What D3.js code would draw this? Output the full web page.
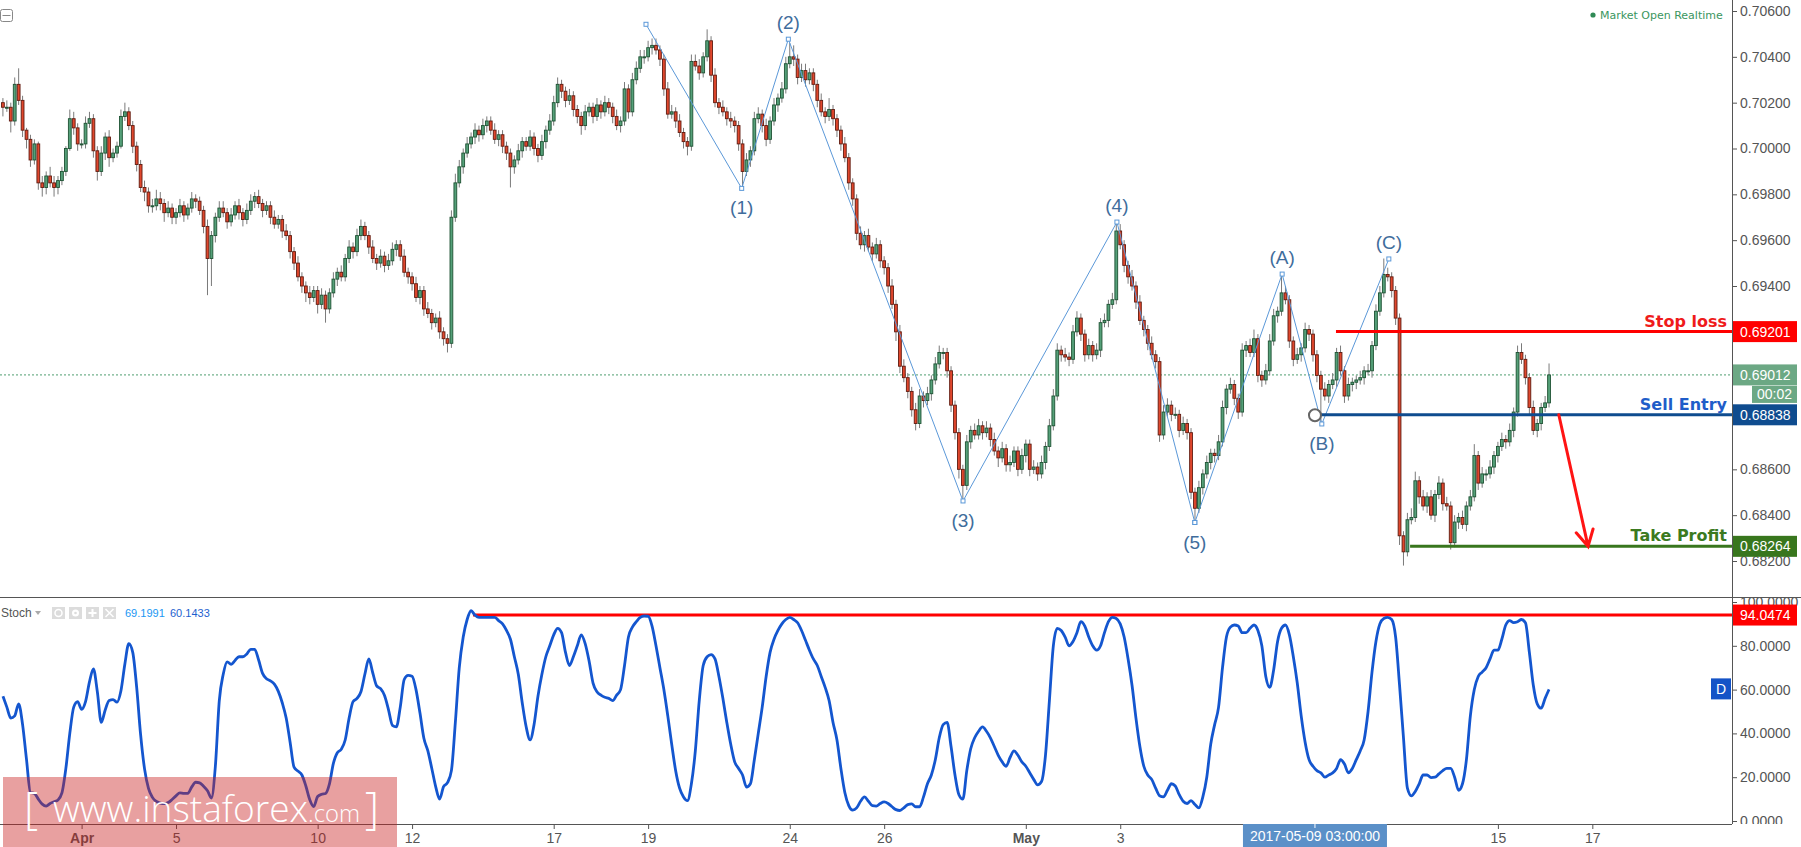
<!DOCTYPE html>
<html><head><meta charset="utf-8">
<script src="https://cdn.jsdelivr.net/npm/d3@7"></script>
<style>body{margin:0;background:#fff}svg{display:block}</style>
</head><body>
<svg id="c" width="1801" height="847"></svg>
<script>
// ---------- DATA ----------
// each bar: [close, upper wick (pips), lower wick (pips), stoch %D]
const firstOpen = 0.7020;
const mar30 = [[0.7018,2,4,57],[0.7018,3,2,52],[0.7012,2,5,47],[0.7028,3,2,48],[0.7021,7,2,53.5],[0.7008,2,3,44],[0.7004,1,4,28],[0.6995,2,3,13]];
const mar31 = [[0.7002,2,2,12.6],[0.6985,1,3,10],[0.6983,3,4,7.7],[0.6988,2,3,6.8],[0.6985,4,2,8],[0.6983,3,4,8.8],[0.6986,2,3,9.6],[0.6990,2,2,12.8],[0.7000,1,2,24],[0.7013,4,1,40],[0.7009,3,3,52],[0.7002,2,3,54.5]];
const apr03 = [[0.7002,2,2,51],[0.7011,3,2,54.5],[0.7013,3,2,63.5],[0.6999,2,3,69.5],[0.6990,2,4,59],[0.6998,3,2,45],[0.7005,2,3,50.7],[0.6996,3,4,55],[0.6998,2,2,55.4],[0.7001,2,2,54.3],[0.7014,3,1,59.5],[0.7016,4,2,71.7]];
const apr04 = [[0.7010,2,2,81],[0.7001,2,3,77],[0.6993,2,3,61],[0.6983,2,2,39.4],[0.6981,3,4,23.8],[0.6975,2,3,14.9],[0.6975,3,3,10.8],[0.6978,4,2,8.9],[0.6976,3,3,8.2],[0.6972,2,4,7.9],[0.6974,3,2,8.4],[0.6970,2,3,9.8]];
const apr05 = [[0.6972,2,3,11.5],[0.6975,3,2,12.8],[0.6971,2,3,12.6],[0.6974,2,2,12.6],[0.6978,3,2,15.6],[0.6977,2,3,17.7],[0.6973,2,2,17.4],[0.6966,2,3,15.9],[0.6952,3,16,13.8],[0.6962,2,12,10.5],[0.6970,2,3,25],[0.6974,3,2,55]];
const apr06 = [[0.6972,3,2,67],[0.6968,2,3,72.7],[0.6971,3,2,71.5],[0.6975,2,2,73.3],[0.6972,3,3,75],[0.6969,2,3,75],[0.6973,3,2,76.3],[0.6977,3,2,78.4],[0.6979,2,3,78.4],[0.6976,3,2,73.5],[0.6973,2,3,67.4],[0.6975,2,2,65]];
const apr07 = [[0.6970,2,3,64],[0.6967,3,2,62.5],[0.6969,2,2,59.2],[0.6964,2,3,54],[0.6962,3,2,47],[0.6955,2,3,36],[0.6950,2,3,24.6],[0.6944,3,2,22.8],[0.6940,2,3,21],[0.6937,2,4,16],[0.6935,3,3,9.7],[0.6938,2,2,6.6]];
const apr10 = [[0.6932,2,4,11.2],[0.6936,3,2,12.2],[0.6930,2,6,12.6],[0.6937,2,2,17],[0.6943,3,2,26.3],[0.6946,2,3,31.2],[0.6944,3,2,32.7],[0.6952,2,2,37],[0.6957,3,2,47],[0.6955,2,3,54.5],[0.6962,3,2,56],[0.6966,3,2,59]];
const apr11 = [[0.6962,2,2,67],[0.6957,2,3,74],[0.6952,3,2,67.7],[0.6950,2,3,61.7],[0.6953,3,2,60.4],[0.6949,2,3,57.3],[0.6951,3,2,50.9],[0.6956,3,2,43.7],[0.6958,2,3,43],[0.6953,2,2,52],[0.6946,3,2,64.6],[0.6944,2,3,66.5]];
const apr12 = [[0.6941,2,3,66.1],[0.6935,3,2,60],[0.6938,2,3,49.4],[0.6930,2,3,37.8],[0.6928,3,2,32.1],[0.6924,2,3,24.1],[0.6926,2,2,15.7],[0.6920,3,3,10],[0.6917,2,3,15.7],[0.6915,2,4,17.5],[0.6970,3,2,23],[0.6985,4,2,45]];
const apr13 = [[0.6992,3,2,70],[0.6998,2,3,84],[0.7002,3,2,92],[0.7005,2,2,96],[0.7008,3,3,94],[0.7006,2,3,93],[0.7010,3,2,93],[0.7012,2,3,93],[0.7008,2,2,93],[0.7004,3,2,93],[0.7006,2,3,91.5],[0.7001,2,3,90]];
const apr14 = [[0.6998,2,3,87],[0.6992,2,9,83],[0.6995,2,3,75],[0.6999,3,2,67],[0.7003,2,3,54],[0.7001,2,2,43],[0.7005,3,2,37],[0.7000,2,3,44],[0.6997,2,3,57],[0.7003,3,2,67],[0.7008,2,3,75],[0.7012,3,2,80]];
const apr17 = [[0.7020,3,2,85],[0.7028,3,2,88],[0.7025,2,3,86],[0.7021,2,3,77],[0.7023,3,2,71],[0.7017,2,3,75],[0.7014,2,3,80],[0.7010,2,4,85],[0.7016,3,2,81],[0.7018,2,2,73],[0.7014,2,3,63],[0.7019,3,2,59]];
const apr18 = [[0.7016,2,3,57.5],[0.7020,3,2,56.5],[0.7018,2,3,56],[0.7014,2,3,55],[0.7010,3,2,57.5],[0.7012,2,3,60],[0.7026,3,2,71],[0.7016,2,3,84],[0.7030,3,2,88.5],[0.7035,3,2,91],[0.7040,3,2,93],[0.7040,3,3,93.6]];
const apr19 = [[0.7044,3,2,93.5],[0.7045,3,3,89],[0.7043,3,2,80],[0.7039,2,3,70],[0.7026,2,3,60],[0.7015,3,2,48],[0.7016,3,2,35],[0.7012,2,3,23],[0.7007,3,2,15],[0.7003,2,3,11],[0.7001,2,4,9.3],[0.7038,3,2,17]];
const apr20 = [[0.7036,3,2,32],[0.7033,3,3,55],[0.7040,2,2,71],[0.7047,5,2,75],[0.7032,2,3,76],[0.7020,3,2,74],[0.7018,2,3,66],[0.7016,3,2,56],[0.7013,2,3,45],[0.7012,3,3,35],[0.7010,2,3,27],[0.7002,2,3,24]];
const apr21 = [[0.6990,2,7,21],[0.6995,3,2,15.5],[0.6999,2,3,17],[0.7013,3,2,28],[0.7015,3,2,40],[0.7010,2,3,52],[0.7004,3,3,66],[0.7012,2,2,77],[0.7019,3,2,83],[0.7022,2,3,87],[0.7026,3,2,90],[0.7037,3,2,92]];
const apr24 = [[0.7040,6,2,93],[0.7039,5,3,92],[0.7031,2,3,90.5],[0.7034,3,2,87],[0.7030,3,3,82.5],[0.7033,2,2,78],[0.7028,2,3,74],[0.7021,2,3,71],[0.7016,3,2,66],[0.7014,2,3,61],[0.7017,5,2,55],[0.7013,2,3,45]];
const apr25 = [[0.7008,2,3,37],[0.7002,2,3,24],[0.6996,3,2,13],[0.6985,2,3,7],[0.6978,2,3,5],[0.6963,2,3,6],[0.6958,3,2,9],[0.6962,2,3,11],[0.6957,3,2,9],[0.6954,2,3,7],[0.6958,3,2,6.8],[0.6951,2,3,8]];
const apr26 = [[0.6948,2,3,8.7],[0.6940,2,3,8],[0.6932,3,2,6.5],[0.6920,2,4,5.2],[0.6905,3,3,4.8],[0.6900,3,2,6],[0.6894,2,3,7.5],[0.6886,2,3,7.8],[0.6880,3,3,6.5],[0.6892,3,2,6.5],[0.6890,2,3,11],[0.6893,3,2,17]];
const apr27 = [[0.6899,2,3,21],[0.6906,3,2,28],[0.6911,3,2,38],[0.6911,2,3,44],[0.6903,2,3,45],[0.6888,2,3,34],[0.6876,2,3,21],[0.6860,2,4,12],[0.6853,2,7,10],[0.6872,3,2,23],[0.6877,2,3,33],[0.6875,3,2,38]];
const apr28 = [[0.6879,3,2,41],[0.6876,2,3,43],[0.6878,3,2,41],[0.6873,2,3,38],[0.6868,3,2,34],[0.6865,2,4,30],[0.6869,3,2,27],[0.6862,2,3,25],[0.6863,3,3,29],[0.6868,2,2,32],[0.6860,2,3,30],[0.6866,3,2,27]];
const may01 = [[0.6871,2,3,25],[0.6860,2,3,22],[0.6861,3,2,19],[0.6858,2,3,16.5],[0.6863,3,2,18],[0.6870,2,3,30],[0.6879,3,2,55],[0.6892,3,2,80],[0.6912,3,2,88],[0.6910,2,3,87],[0.6909,3,2,84],[0.6908,2,3,80]];
const may02 = [[0.6920,3,2,82],[0.6926,3,2,86],[0.6919,2,3,91],[0.6910,2,3,89],[0.6914,3,2,84],[0.6910,2,3,80],[0.6912,3,2,78],[0.6924,2,3,80],[0.6925,3,2,86],[0.6932,2,3,91],[0.6934,3,2,93],[0.6964,4,2,92.5]];
const may03 = [[0.6958,3,2,90],[0.6949,2,3,84],[0.6944,2,3,74],[0.6940,3,2,62],[0.6933,2,3,47],[0.6925,3,2,34],[0.6921,2,3,25],[0.6915,2,3,21],[0.6910,3,2,19],[0.6907,2,3,15],[0.6875,2,3,11.5],[0.6885,3,2,11]];
const may04 = [[0.6888,3,2,14],[0.6884,2,3,17],[0.6884,3,2,16],[0.6877,2,3,12],[0.6880,3,2,9],[0.6876,2,3,8],[0.6850,2,3,9.3],[0.6843,2,6,7.5],[0.6852,3,2,6],[0.6858,2,3,11],[0.6863,3,2,20],[0.6867,2,3,35]];
const may05 = [[0.6866,2,3,44],[0.6872,3,2,52],[0.6887,3,2,70],[0.6895,2,3,84],[0.6897,3,2,88.5],[0.6891,2,3,89.5],[0.6885,2,3,89],[0.6912,3,2,86],[0.6914,2,3,86],[0.6911,3,2,88],[0.6917,4,2,89.5],[0.6901,2,3,87]];
const may08 = [[0.6899,2,3,80],[0.6903,3,2,66],[0.6916,3,2,61],[0.6927,3,2,69],[0.6929,2,3,82],[0.6937,8,2,88],[0.6934,3,2,89.5],[0.6916,2,3,85],[0.6908,2,3,75],[0.6910,3,2,63],[0.6913,2,3,48],[0.6921,3,2,36]];
const may09 = [[0.6919,2,3,28],[0.6910,2,3,25],[0.6901,2,3,23],[0.6895,2,15,22],[0.6892,3,2,20],[0.6897,2,3,21],[0.6899,3,2,22],[0.6911,2,3,24],[0.6903,3,2,28],[0.6892,2,3,26],[0.6897,3,2,22],[0.6898,2,3,24]];
const may10 = [[0.6899,2,3,28],[0.6900,3,2,32],[0.6903,2,3,37],[0.6903,3,2,50],[0.6914,2,3,68],[0.6929,3,2,82],[0.6937,3,2,90],[0.6945,7,2,92.5],[0.6944,3,2,93],[0.6938,2,3,92],[0.6926,2,3,84],[0.6831,2,4,62]];
const may11 = [[0.6824,2,6,38],[0.6838,3,2,15],[0.6839,4,2,11.5],[0.6855,4,2,13.5],[0.6848,2,3,17],[0.6844,3,2,21],[0.6848,2,3,21],[0.6840,3,2,19.8],[0.6849,2,3,20],[0.6854,3,2,21.5],[0.6845,2,3,23],[0.6844,3,2,24]];
const may12 = [[0.6828,2,3,24],[0.6837,3,2,20],[0.6839,2,3,14],[0.6836,3,2,17],[0.6844,2,3,28],[0.6848,3,2,48],[0.6866,5,2,60],[0.6854,2,3,66],[0.6858,3,2,68],[0.6858,2,3,70],[0.6861,3,2,74],[0.6866,2,3,78]];
const may15 = [[0.6870,2,3,78],[0.6873,3,2,83],[0.6872,2,3,89.5],[0.6877,3,2,91.5],[0.6885,2,3,90.6],[0.6911,3,2,91],[0.6908,4,2,92],[0.6900,2,3,90.5],[0.6887,2,3,77],[0.6877,3,2,62],[0.6880,2,3,53.5],[0.6887,2,3,51.5]];
const may16 = [[0.6889,3,2,56],[0.69012,5,2,60.1]];

// trading-day index (0 = Apr 3), first 2-hour slot, bars
const dayIndex = [-2,-1,0,1,2,3,4,5,6,7,8,9,10,11,12,13,14,15,16,17,18,19,20,21,22,23,24,25,26,27,28,29,30,31];
const dayStartSlot = [4,0,0,0,0,0,0,0,0,0,0,0,0,0,0,0,0,0,0,0,0,0,0,0,0,0,0,0,0,0,0,0,0,0];
const dayBars = [mar30,mar31,apr03,apr04,apr05,apr06,apr07,apr10,apr11,apr12,apr13,apr14,apr17,apr18,apr19,apr20,apr21,apr24,apr25,apr26,apr27,apr28,may01,may02,may03,may04,may05,may08,may09,may10,may11,may12,may15,may16];

const timeTickT = [0,2,5,7,10,12,15,17,20,22,30,32];
const timeTickLabels = ["Apr","5","10","12","17","19","24","26","May","3","15","17"];
const priceTicks = [0.706,0.704,0.702,0.700,0.698,0.696,0.694,0.692,0.690,0.688,0.686,0.684,0.682];
const priceTicksHidden = [0.692,0.690,0.688]; // covered by the level tags
const stochTicks = [0,20,40,60,80,100];

const waveT = [11.955,13.982,14.97,18.67,21.93,23.58];
const wavePrice = [0.70542,0.69826,0.70477,0.68462,0.69679,0.68368];
const waveLabels = ["","(1)","(2)","(3)","(4)","(5)"];
const abcT = [23.58,25.43,26.27,27.69];
const abcPrice = [0.68368,0.69452,0.68798,0.69518];
const abcLabels = ["","(A)","(B)","(C)"];

const stopLoss = 0.69201, sellEntry = 0.68838, takeProfit = 0.68264, lastPrice = 0.69012;
const levelStartT = [26.57, 26.125, 28.14];
const arrowT = [31.29, 31.91], arrowPrice = [0.68838, 0.68264];
const stochLevel = 94.0474, stochLevelT = 8.29;
const stochK = "69.1991", stochD = "60.1433";
const crossT = 26.125, crossLabel = "2017-05-09 03:00:00";

// ---------- BUILD ----------
const candles = [];
let prev = firstOpen;
dayBars.forEach((bars, di) => bars.forEach((b, k) => {
  const [c, uw, dw, st] = b, o = prev;
  candles.push({t: dayIndex[di] + (dayStartSlot[di] + k) / 12, o, c,
    h: Math.max(o, c) + uw / 1e4, l: Math.min(o, c) - dw / 1e4, s: st});
  prev = c;
}));

const paneR = 1732, priceB = 597, stochB = 824;
const svg = d3.select("#c");
const x = d3.scaleLinear().domain([0, 30]).range([81.6, 1497.9]);
const y = d3.scaleLinear().domain([0.682, 0.706]).range([561, 11]);
const ys = d3.scaleLinear().domain([0, 100]).range([821, 602]);

const defs = svg.append("defs");
defs.append("clipPath").attr("id","clipP").append("rect").attr("x",0).attr("y",0).attr("width",paneR).attr("height",priceB);
defs.append("clipPath").attr("id","clipS").append("rect").attr("x",0).attr("y",priceB).attr("width",paneR).attr("height",stochB-priceB);
defs.append("clipPath").attr("id","clipSA").append("rect").attr("x",paneR).attr("y",priceB).attr("width",80).attr("height",stochB-priceB);

svg.append("rect").attr("width",1801).attr("height",847).attr("fill","#fff");

// ---- price pane ----
const gP = svg.append("g").attr("clip-path","url(#clipP)");
gP.append("line").attr("x1",0).attr("x2",paneR).attr("y1",y(lastPrice)).attr("y2",y(lastPrice))
  .attr("stroke","#4f9e70").attr("stroke-width",1).attr("stroke-dasharray","2,2");
gP.selectAll("line.wick").data(candles).join("line").attr("class","wick")
  .attr("x1",d=>x(d.t)).attr("x2",d=>x(d.t)).attr("y1",d=>y(d.h)).attr("y2",d=>y(d.l))
  .attr("stroke","#7a7a7a").attr("stroke-width",1);
const bw = 2.8;
gP.selectAll("rect.body").data(candles).join("rect").attr("class","body")
  .attr("x",d=>x(d.t)-bw/2).attr("width",bw)
  .attr("y",d=>y(Math.max(d.o,d.c))).attr("height",d=>Math.max(1,Math.abs(y(d.o)-y(d.c))))
  .attr("fill",d=>d.c>=d.o?"#55a079":"#e0472d")
  .attr("stroke",d=>d.c>=d.o?"#1e5233":"#5f1b10").attr("stroke-width",0.9);

// wave lines
const waveColor = "#5b98d8";
function wave(T, P, labels){
  const pts = T.map((t,i)=>[x(t), y(P[i])]);
  gP.append("path").attr("d", d3.line()(pts)).attr("fill","none").attr("stroke",waveColor).attr("stroke-width",1);
  gP.selectAll(null).data(pts).join("rect").attr("x",d=>d[0]-2).attr("y",d=>d[1]-2).attr("width",4).attr("height",4)
    .attr("fill","#fff").attr("stroke",waveColor).attr("stroke-width",1);
  pts.forEach((p,i)=>{
    if(!labels[i]) return;
    const nb = i>0 ? P[i-1] : P[i+1];
    const high = P[i] > nb;
    gP.append("text").attr("x",p[0]).attr("y", high ? p[1]-10 : p[1]+26)
      .attr("text-anchor","middle").attr("font-family","Liberation Sans, Arial, sans-serif")
      .attr("font-size",19).attr("fill","#3f6d9c").text(labels[i]);
  });
}
wave(waveT, wavePrice, waveLabels);
wave(abcT, abcPrice, abcLabels);

// levels
const levels = [
  {p: stopLoss, t: levelStartT[0], color:"#ff0000", txt:"Stop loss", tc:"#ef1b1b"},
  {p: sellEntry, t: levelStartT[1], color:"#0f4c8f", txt:"Sell Entry", tc:"#1f5dc9"},
  {p: takeProfit, t: levelStartT[2], color:"#38761d", txt:"Take Profit", tc:"#3b7a1f"}
];
levels.forEach((L,i)=>{
  const x0 = i===1 ? x(L.t)+6 : x(L.t);
  gP.append("line").attr("x1",x0).attr("x2",paneR).attr("y1",y(L.p)).attr("y2",y(L.p))
    .attr("stroke",L.color).attr("stroke-width",3);
  gP.append("text").attr("x",paneR-5).attr("y",y(L.p)-5).attr("text-anchor","end")
    .attr("font-family","DejaVu Sans, Verdana, sans-serif").attr("font-weight","bold").attr("font-size",16)
    .attr("fill",L.tc).text(L.txt);
});
gP.append("circle").attr("cx",x(levelStartT[1])).attr("cy",y(sellEntry)+0.5).attr("r",6)
  .attr("fill","#fff").attr("stroke","#666").attr("stroke-width",2);

// red arrow
{
  const x1=x(arrowT[0]), y1=y(arrowPrice[0]), x2=x(arrowT[1]), y2=y(arrowPrice[1]);
  const ang=Math.atan2(y2-y1,x2-x1), len=18, sp=0.5;
  gP.append("path").attr("d",`M${x1},${y1}L${x2},${y2}M${x2-len*Math.cos(ang-sp)},${y2-len*Math.sin(ang-sp)}L${x2},${y2}L${x2-len*Math.cos(ang+sp)},${y2-len*Math.sin(ang+sp)}`)
    .attr("fill","none").attr("stroke","#ff1414").attr("stroke-width",3).attr("stroke-linecap","round");
}

// ---- price axis ----
const axFont = "Liberation Sans, Arial, sans-serif";
const fmt5 = d3.format(".5f");
const gA = svg.append("g").attr("transform",`translate(${paneR},0)`)
  .call(d3.axisRight(y).tickValues(priceTicks).tickFormat(d=>priceTicksHidden.includes(d)?"":fmt5(d)).tickSize(5).tickPadding(3));
gA.select(".domain").remove();
gA.selectAll("line").attr("stroke","#555");
gA.selectAll("text").attr("font-family",axFont).attr("font-size",14).attr("fill","#555");

function tag(yc, txt, fill, x0, w, h){
  svg.append("rect").attr("x",x0).attr("y",yc-h/2).attr("width",w).attr("height",h).attr("fill",fill);
  svg.append("text").attr("x",x0+ (x0===paneR?8:5)).attr("y",yc+5).attr("font-family",axFont).attr("font-size",14)
    .attr("fill","#fff").text(txt);
}
tag(y(stopLoss), fmt5(stopLoss), "#ff0000", paneR, 65, 21);
tag(y(lastPrice), fmt5(lastPrice), "#6ca884", paneR, 65, 21);
tag(y(lastPrice)+19.5, "00:02", "#6ca884", 1752, 45, 17);
tag(y(sellEntry), fmt5(sellEntry), "#0f4c8f", paneR, 65, 21);
tag(y(takeProfit), fmt5(takeProfit), "#38761d", paneR, 65, 21);

// ---- stoch pane ----
const gS = svg.append("g").attr("clip-path","url(#clipS)");
gS.append("line").attr("x1",x(stochLevelT)).attr("x2",paneR).attr("y1",ys(stochLevel)).attr("y2",ys(stochLevel))
  .attr("stroke","#ff0000").attr("stroke-width",3);
gS.append("path").attr("d", d3.line().x(d=>x(d.t)).y(d=>ys(d.s)).curve(d3.curveMonotoneX)(candles))
  .attr("fill","none").attr("stroke","#1456cf").attr("stroke-width",2.8).attr("stroke-linejoin","round");

const gSA = svg.append("g").attr("clip-path","url(#clipSA)").append("g").attr("transform",`translate(${paneR},0)`)
  .call(d3.axisRight(ys).tickValues(stochTicks).tickFormat(d3.format(".4f")).tickSize(5).tickPadding(3));
gSA.select(".domain").remove();
gSA.selectAll("line").attr("stroke","#555");
gSA.selectAll("text").attr("font-family",axFont).attr("font-size",14).attr("fill","#555");
tag(ys(stochLevel), d3.format(".4f")(stochLevel), "#ff0000", paneR, 65, 21);
const lastS = candles[candles.length-1].s;
svg.append("rect").attr("x",1711).attr("y",ys(lastS)-11).attr("width",20).attr("height",21).attr("fill","#1453c7");
svg.append("text").attr("x",1721).attr("y",ys(lastS)+5).attr("text-anchor","middle")
  .attr("font-family",axFont).attr("font-size",14).attr("fill","#fff").text("D");

// ---- frame lines ----
svg.append("line").attr("x1",paneR+0.5).attr("x2",paneR+0.5).attr("y1",0).attr("y2",stochB).attr("stroke","#555");
svg.append("line").attr("x1",0).attr("x2",1801).attr("y1",priceB+0.5).attr("y2",priceB+0.5).attr("stroke","#555");
svg.append("line").attr("x1",0).attr("x2",paneR).attr("y1",stochB+0.5).attr("y2",stochB+0.5).attr("stroke","#555");

// ---- time axis ----
const gT = svg.append("g").attr("transform",`translate(0,${stochB})`)
  .call(d3.axisBottom(x).tickValues(timeTickT).tickFormat((d,i)=>timeTickLabels[i]).tickSize(5).tickPadding(4));
gT.select(".domain").remove();
gT.selectAll("line").attr("stroke","#555");
gT.selectAll("text").attr("font-family",axFont).attr("font-size",14).attr("fill","#555")
  .attr("font-weight",(d,i)=>/[A-Za-z]/.test(timeTickLabels[i])?"bold":"normal");
svg.append("rect").attr("x",x(crossT)-72).attr("y",stochB).attr("width",144).attr("height",847-stochB).attr("fill","#5b90c8");
svg.append("line").attr("x1",x(crossT)).attr("x2",x(crossT)).attr("y1",stochB).attr("y2",stochB+4).attr("stroke","#fff");
svg.append("text").attr("x",x(crossT)).attr("y",841).attr("text-anchor","middle").attr("font-family",axFont)
  .attr("font-size",14).attr("fill","#fff").text(crossLabel);

// ---- legends ----
svg.append("circle").attr("cx",1593).attr("cy",15).attr("r",2.6).attr("fill","#2f8a55");
svg.append("text").attr("x",1600).attr("y",19).attr("font-family","DejaVu Sans, Verdana, sans-serif").attr("font-size",11)
  .attr("fill","#3a9660").text("Market Open Realtime");
svg.append("rect").attr("x",0.5).attr("y",9.5).attr("width",12).attr("height",12).attr("rx",2)
  .attr("fill","none").attr("stroke","#888");
svg.append("line").attr("x1",2.5).attr("x2",10.5).attr("y1",15.5).attr("y2",15.5).attr("stroke","#888");

svg.append("text").attr("x",1).attr("y",617).attr("font-family",axFont).attr("font-size",12).attr("fill","#555").text("Stoch");
svg.append("path").attr("d","M35,611L41,611L38,615Z").attr("fill","#aaa");
[52,69,86,103].forEach((bx,i)=>{
  svg.append("rect").attr("x",bx).attr("y",607).attr("width",13).attr("height",12).attr("fill","#dcdcdc");
  const cx=bx+6.5, cy=613;
  if(i===0){svg.append("circle").attr("cx",cx).attr("cy",cy).attr("r",3.5).attr("fill","none").attr("stroke","#fff").attr("stroke-width",1.5);}
  if(i===1){svg.append("circle").attr("cx",cx).attr("cy",cy).attr("r",3.5).attr("fill","#fff");svg.append("circle").attr("cx",cx).attr("cy",cy).attr("r",1.3).attr("fill","#dcdcdc");}
  if(i===2){svg.append("path").attr("d",`M${cx-4},${cy}H${cx+4}M${cx},${cy-4}V${cy+4}`).attr("stroke","#fff").attr("stroke-width",2);}
  if(i===3){svg.append("path").attr("d",`M${cx-4},${cy-4}L${cx+4},${cy+4}M${cx+4},${cy-4}L${cx-4},${cy+4}`).attr("stroke","#fff").attr("stroke-width",1.5);}
});
svg.append("text").attr("x",125).attr("y",617).attr("font-family",axFont).attr("font-size",11).attr("fill","#2196f3").text(stochK);
svg.append("text").attr("x",170).attr("y",617).attr("font-family",axFont).attr("font-size",11).attr("fill","#1e5fcf").text(stochD);

// ---- watermark ----
svg.append("rect").attr("x",3).attr("y",777).attr("width",394).attr("height",70).attr("fill","rgb(200,29,29)").attr("fill-opacity",0.42);
const wm = svg.append("g").attr("fill","#fff").attr("font-family","Open Sans, sans-serif").attr("font-weight",300);
wm.append("text").attr("x",24).attr("y",824).attr("font-size",44).text("[");
wm.append("text").attr("x",53).attr("y",822).attr("font-size",36).attr("textLength",255).attr("lengthAdjust","spacingAndGlyphs").text("www.instaforex");
wm.append("text").attr("x",308).attr("y",822).attr("font-size",24).attr("textLength",52).attr("lengthAdjust","spacingAndGlyphs").text(".com");
wm.append("text").attr("x",365).attr("y",824).attr("font-size",44).text("]");
</script>
</body></html>
